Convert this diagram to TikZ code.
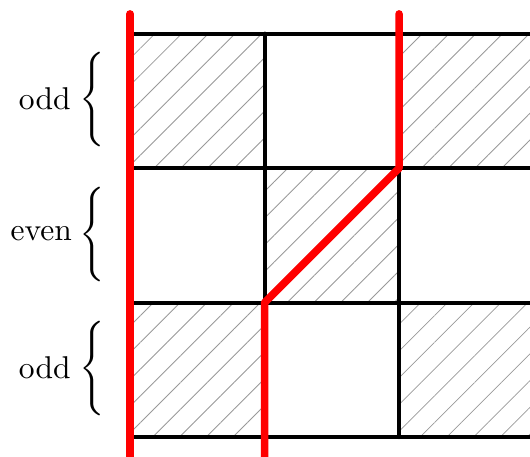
\documentclass[tikz,border=0pt]{standalone}
\usetikzlibrary{patterns.meta}
\begin{document}
\begin{tikzpicture}[
  hatch/.style={pattern={Lines[angle=45,distance=6pt,line width=0.25pt]},pattern color=black!40},
  gridline/.style={line width=1.25pt,line cap=round},
  redpath/.style={line width=2.4pt,red,line cap=round,line join=round},
  lbl/.style={inner sep=0pt},
  bracenode/.style={inner sep=0pt}
]
\useasboundingbox (0,0) rectangle (5.91,5.085);
% hatched cells
\path[hatch] (1.45,3.21) rectangle (2.95,4.71);
\path[hatch] (4.45,3.21) rectangle (6.5,4.71);
\path[hatch] (2.95,1.71) rectangle (4.45,3.21);
\path[hatch] (1.45,0.21) rectangle (2.95,1.71);
\path[hatch] (4.45,0.21) rectangle (6.5,1.71);
% grid
\coordinate (h0l) at (1.45,0.21); \coordinate (h0r) at (6.5,0.21);
\coordinate (h1l) at (1.45,1.71); \coordinate (h1r) at (6.5,1.71);
\coordinate (h2l) at (1.45,3.21); \coordinate (h2r) at (6.5,3.21);
\coordinate (h3l) at (1.45,4.71); \coordinate (h3r) at (6.5,4.71);
\coordinate (v1b) at (2.95,0.21); \coordinate (v1t) at (2.95,4.71);
\coordinate (v2b) at (4.45,0.21); \coordinate (v2t) at (4.45,4.71);
\draw[gridline] (h0l) -- (h0r);
\draw[gridline] (h1l) -- (h1r);
\draw[gridline] (h2l) -- (h2r);
\draw[gridline] (h3l) -- (h3r);
\draw[gridline] (v1b) -- (v1t);
\draw[gridline] (v2b) -- (v2t);
% red paths
\coordinate (r1t) at (1.45,4.93); \coordinate (r1b) at (1.45,-0.5);
\coordinate (r2t) at (4.45,4.93); \coordinate (r2a) at (4.45,3.21);
\coordinate (r2b) at (2.95,1.71); \coordinate (r2e) at (2.95,-0.5);
\draw[redpath] (r1t) -- (r1b);
\draw[redpath] (r2t) -- (r2a) -- (r2b) -- (r2e);
% labels and braces
\node[lbl] (l1) at (0.50,3.98) {odd};
\node[lbl] (l2) at (0.46,2.48) {even};
\node[lbl] (l3) at (0.50,0.98) {odd};
\node[bracenode] (b1) at (1.05,3.96) {$\left\{\vrule height 0.46cm depth 0.46cm width 0pt\right.$};
\node[bracenode] (b2) at (1.05,2.46) {$\left\{\vrule height 0.46cm depth 0.46cm width 0pt\right.$};
\node[bracenode] (b3) at (1.05,0.96) {$\left\{\vrule height 0.46cm depth 0.46cm width 0pt\right.$};
\end{tikzpicture}
\end{document}
